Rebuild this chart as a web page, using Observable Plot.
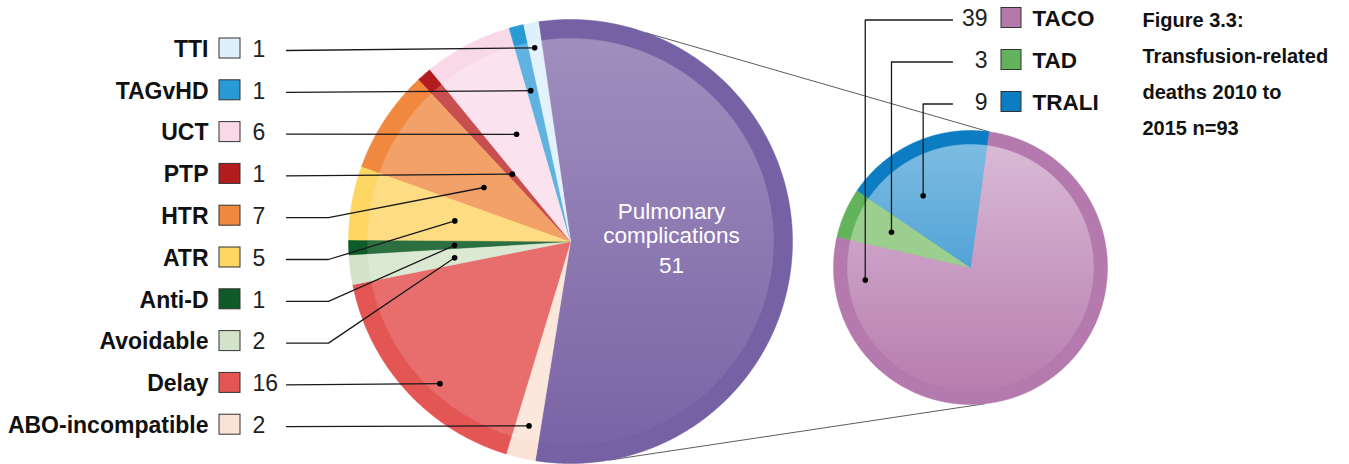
<!DOCTYPE html>
<html>
<head>
<meta charset="utf-8">
<script src="https://cdn.jsdelivr.net/npm/d3@7"></script>
<script src="https://cdn.jsdelivr.net/npm/@observablehq/plot@0.6"></script>
<style>
  body { margin: 0; background: #fff; }
  svg { display: block; }
</style>
</head>
<body>
<div id="chart"></div>
<script>
// Transfusion-related deaths by category, 2010 to 2015
const categories = ["Pulmonary complications", "ABO-incompatible", "Delay", "Avoidable", "Anti-D", "ATR", "HTR", "PTP", "UCT", "TAGvHD", "TTI"];
const counts = [51, 2, 16, 2, 1, 5, 7, 1, 6, 1, 1];

// Breakdown of the pulmonary complications
const pulmonaryTypes = ["TACO", "TAD", "TRALI"];
const pulmonaryCounts = [39, 3, 9];

const titleLines = ["Figure 3.3:", "Transfusion-related", "deaths 2010 to", "2015 n=93"];

// Colours: darker rim and lighter inner fill for each slice
const rimColors = ["#7561a3", "#fae2d6", "#e35654", "#d3e3c9", "#0e5a28", "#fdd663", "#f08840", "#b31c1c", "#f9d8e7", "#2a9ad6", "#def0fb"];
const innerColors = ["url(#gPulm)", "#fbe7dc", "#e86e6d", "#dbe8d2", "#2c6f41", "#fddc84", "#f2a169", "#c84f50", "#fae3ee", "#60b3e0", "#e3f2fb"];
const subRimColors = ["#b47aad", "#63b25c", "#0c7dc3"];
const subInnerColors = ["url(#gTaco)", "#9ccf8f", "url(#gTrali)"];

// ---- layout ----
const W = 1349, H = 464;
const rad = (deg) => deg * Math.PI / 180;
const mainPie = {cx: 570, cy: 241, r: 222, rim: 19, start: rad(-8.3)};
const subPie = {cx: 970, cy: 267, r: 137, rim: 14, start: rad(7.7)};
// where each callout dot sits: fraction across its slice, distance from centre
const mainSpotT = [null, 0.46, 0.415, 0.42, 0.4, 0.5, 0.45, 0.6, 0.54, 0.33, 0.44];
const mainSpotR = [null, 189, 193, 117, 116, 117.5, 102, 89, 120, 156, 197];
const subSpotT = [0.928, 0.52, 0.353];
const subSpotR = [106, 86.5, 86];

const pt = (c, a, r) => [c.cx + r * Math.sin(a), c.cy - r * Math.cos(a)];

function wedge(c, a0, a1, r) {
  const n = Math.max(2, Math.ceil((a1 - a0) / 0.008));
  const pts = [[c.cx, c.cy]];
  for (let i = 0; i <= n; i++) pts.push(pt(c, a0 + (a1 - a0) * i / n, r));
  pts.push([c.cx, c.cy]);
  return pts;
}

const mainArcs = d3.pie().sort(null).startAngle(mainPie.start).endAngle(mainPie.start + 2 * Math.PI)(counts);
const subArcs = d3.pie().sort(null).startAngle(subPie.start).endAngle(subPie.start + 2 * Math.PI)(pulmonaryCounts);

// slice outlines as polygons in chart coordinates
const rimPts = [], innerPts = [];
function addSlices(arcs, c, rims, inners, prefix) {
  arcs.forEach((a, i) => {
    wedge(c, a.startAngle, a.endAngle, c.r).forEach(([x, y]) => rimPts.push({key: prefix + i, color: rims[i], x, y}));
    wedge(c, a.startAngle, a.endAngle, c.r - c.rim).forEach(([x, y]) => innerPts.push({key: prefix + i, color: inners[i], x, y}));
  });
}
addSlices(mainArcs, mainPie, rimColors, innerColors, "m");
addSlices(subArcs, subPie, subRimColors, subInnerColors, "s");

// left-hand callouts
const leftRows = [];
for (let i = 1; i < categories.length; i++) {
  const a = mainArcs[i];
  const ang = a.startAngle + (a.endAngle - a.startAngle) * mainSpotT[i];
  const [dx, dy] = pt(mainPie, ang, mainSpotR[i]);
  const row = 50 + (categories.length - 1 - i) * 41.8;
  leftRows.push({name: categories[i], value: counts[i], color: rimColors[i], row, dx, dy});
}
const leftLeaders = [];
leftRows.forEach((d) => {
  leftLeaders.push({key: d.name, x: 286, y: d.row});
  if (Math.abs(d.row - d.dy) > 10) leftLeaders.push({key: d.name, x: 328, y: d.row});
  leftLeaders.push({key: d.name, x: d.dx, y: d.dy});
});

// right-hand callouts
const rightRows = pulmonaryTypes.map((name, i) => {
  const a = subArcs[i];
  const ang = a.startAngle + (a.endAngle - a.startAngle) * subSpotT[i];
  const [dx, dy] = pt(subPie, ang, subSpotR[i]);
  return {name, value: pulmonaryCounts[i], color: subRimColors[i], row: 19.5 + i * 42, dx, dy};
});
const rightLeaders = [];
rightRows.forEach((d) => {
  rightLeaders.push({key: d.name, x: 952, y: d.row});
  rightLeaders.push({key: d.name, x: d.dx, y: d.row});
  rightLeaders.push({key: d.name, x: d.dx, y: d.dy});
});

// thin lines joining the pulmonary slice to its breakdown
const topA = pt(mainPie, rad(20), mainPie.r), topB = pt(subPie, subPie.start, subPie.r);
const botA = pt(mainPie, rad(170), mainPie.r), botB = pt(subPie, rad(174), subPie.r);
const joinLines = [
  {key: "top", x: topA[0], y: topA[1]}, {key: "top", x: topB[0], y: topB[1]},
  {key: "bot", x: botA[0], y: botA[1]}, {key: "bot", x: botB[0], y: botB[1]}
];

// centre label of the pulmonary slice
const centreWords = categories[0].split(" ");
const centreText = [
  {t: centreWords[0], y: 211},
  {t: centreWords[1], y: 235},
  {t: String(counts[0]), y: 265}
];

function gradients() {
  const defs = d3.create("svg:defs");
  const add = (id, c0, c1) => {
    const g = defs.append("linearGradient").attr("id", id)
      .attr("x1", 0).attr("y1", 0).attr("x2", 0).attr("y2", 1);
    g.append("stop").attr("offset", "0%").attr("stop-color", c0);
    g.append("stop").attr("offset", "100%").attr("stop-color", c1);
  };
  add("gPulm", "#a08ebe", "#7b64a6");
  add("gTaco", "#d9b9d6", "#b77dae");
  add("gTrali", "#7dbce2", "#52a3d6");
  return defs.node();
}

const font = "'Liberation Sans', Arial, Helvetica, sans-serif";

const chart = Plot.plot({
  width: W,
  height: H,
  margin: 0,
  x: {domain: [0, W], range: [0, W], axis: null},
  y: {domain: [0, H], range: [0, H], axis: null},
  color: {type: "identity"},
  style: {fontFamily: font, background: "#fff"},
  marks: [
    gradients,
    Plot.line(joinLines, {x: "x", y: "y", z: "key", stroke: "#4a4a4a", strokeWidth: 0.9}),
    Plot.line(rimPts, {x: "x", y: "y", z: "key", fill: "color", stroke: "color", strokeWidth: 0.5, curve: "linear"}),
    Plot.line(innerPts, {x: "x", y: "y", z: "key", fill: "color", stroke: "color", strokeWidth: 0.5, curve: "linear"}),
    Plot.text(centreText, {x: () => 671, y: "y", text: "t", fill: "#fff", fontSize: 22.5, fontWeight: 500, textAnchor: "middle", lineAnchor: "middle"}),

    // left legend and callouts
    Plot.line(leftLeaders, {x: "x", y: "y", z: "key", stroke: "#1a1a1a", strokeWidth: 1.3}),
    Plot.dot(leftRows, {x: "dx", y: "dy", r: 2.8, fill: "#000"}),
    Plot.text(leftRows, {x: () => 208, y: (d) => d.row - 1, text: "name", textAnchor: "end", lineAnchor: "middle", fontSize: 23, fontWeight: 700, fill: "#111"}),
    Plot.rect(leftRows, {x1: () => 219, x2: () => 240, y1: (d) => d.row - 12, y2: (d) => d.row + 8, fill: "color", stroke: "#333", strokeWidth: 1}),
    Plot.text(leftRows, {x: () => 252, y: (d) => d.row - 1, text: (d) => String(d.value), textAnchor: "start", lineAnchor: "middle", fontSize: 23, fill: "#222"}),

    // right legend and callouts
    Plot.line(rightLeaders, {x: "x", y: "y", z: "key", stroke: "#1a1a1a", strokeWidth: 1.3}),
    Plot.dot(rightRows, {x: "dx", y: "dy", r: 2.8, fill: "#000"}),
    Plot.text(rightRows, {x: () => 987, y: (d) => d.row - 1.5, text: (d) => String(d.value), textAnchor: "end", lineAnchor: "middle", fontSize: 23, fill: "#222"}),
    Plot.rect(rightRows, {x1: () => 1001, x2: () => 1021, y1: (d) => d.row - 12, y2: (d) => d.row + 8, fill: "color", stroke: "#333", strokeWidth: 1}),
    Plot.text(rightRows, {x: () => 1032, y: (d) => d.row - 1.5, text: "name", textAnchor: "start", lineAnchor: "middle", fontSize: 22.5, fontWeight: 700, fill: "#111"}),

    // figure title
    Plot.text(titleLines, {x: () => 1142, y: (d, i) => 20.5 + i * 36, text: (d) => d, textAnchor: "start", lineAnchor: "middle", fontSize: 20, fontWeight: 700, fill: "#111"})
  ]
});

document.getElementById("chart").append(chart);
</script>
</body>
</html>
